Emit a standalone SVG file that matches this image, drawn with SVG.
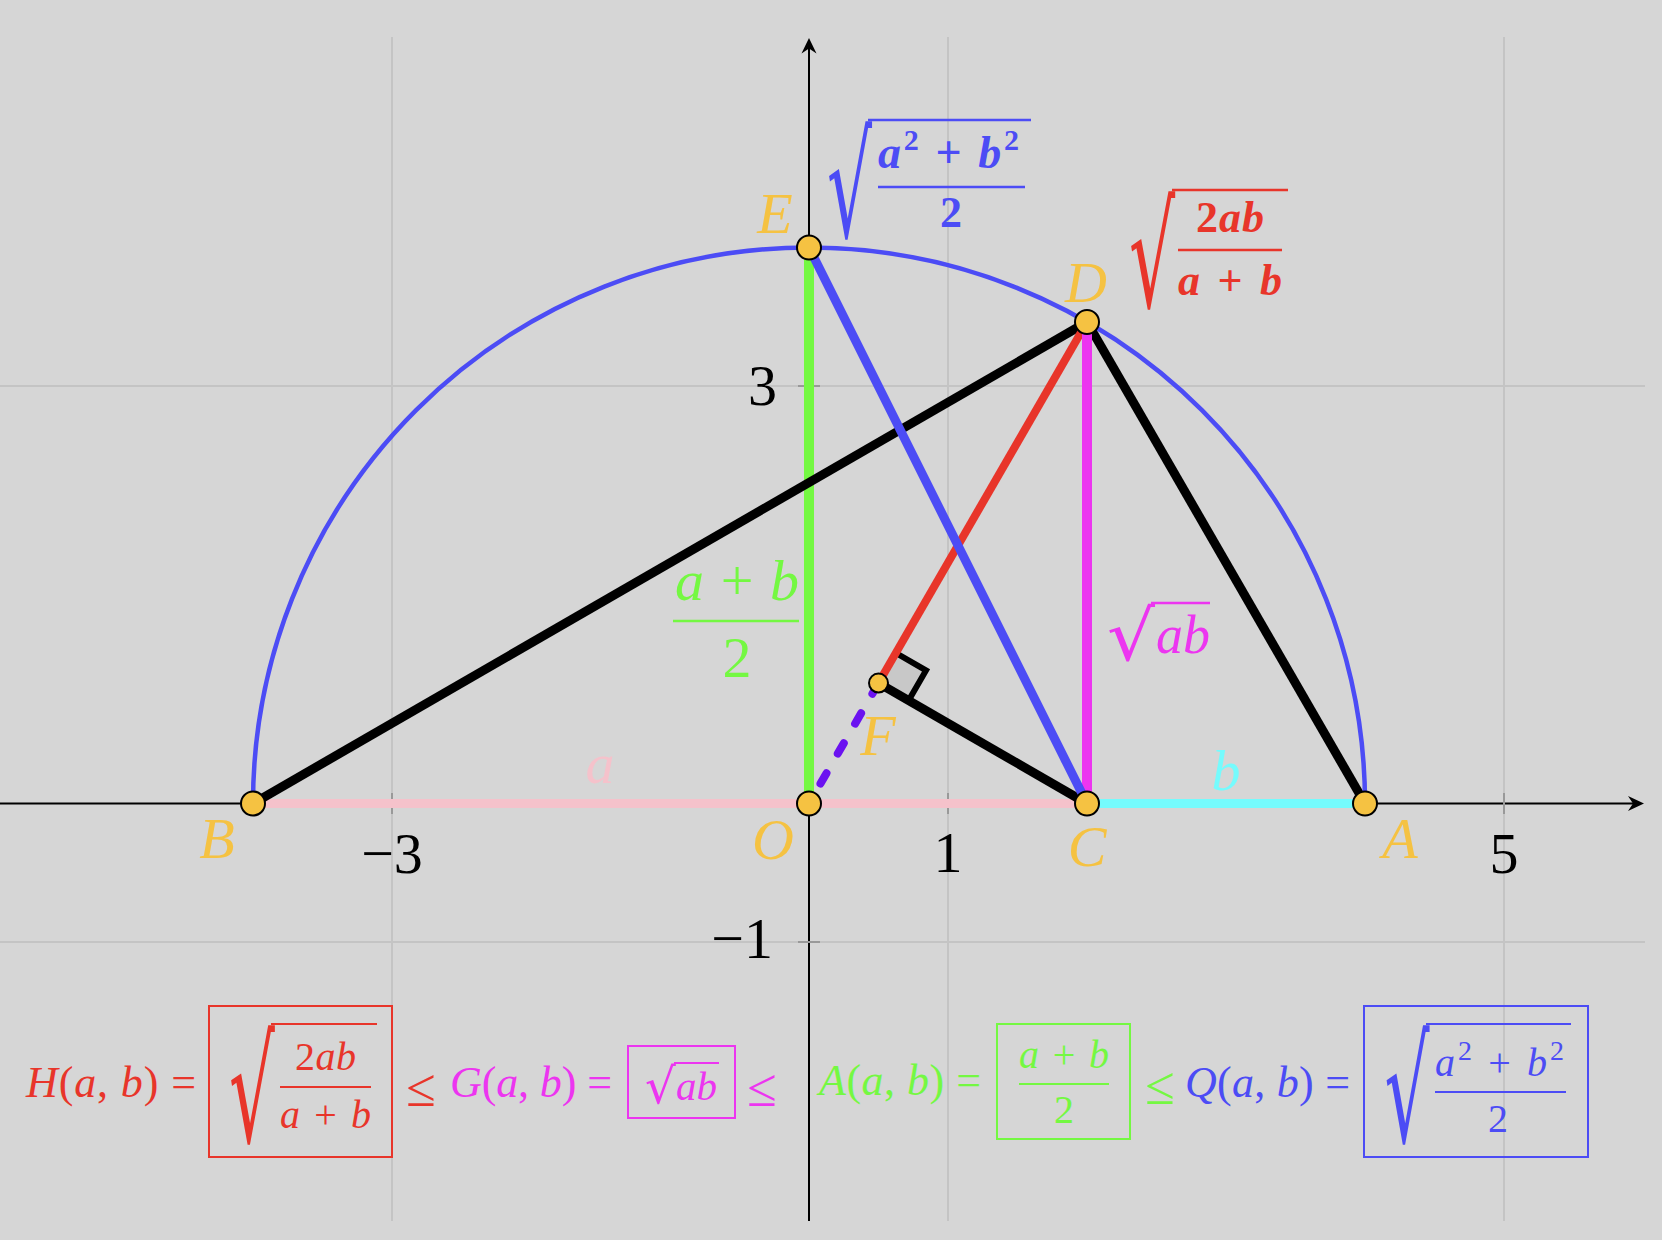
<svg xmlns="http://www.w3.org/2000/svg" width="1662" height="1240" viewBox="0 0 1662 1240">
<style>
.t{font-family:'Liberation Serif','DejaVu Serif',serif;font-style:italic}
.n{font-style:normal}
.bd{font-weight:bold}
.pl{fill:#f5c242;font-size:58px;text-anchor:middle}
.tk{fill:#000;font-size:58px;font-style:normal}
.grid{stroke:#c4c4c4;stroke-width:2}
.tick{stroke:#999;stroke-width:2}
.pt{fill:#f5c242;stroke:#000;stroke-width:2}
.seg{fill:none;stroke-linecap:butt}
.rad{font-family:'DejaVu Serif',serif;font-style:normal}
</style>
<rect width="1662" height="1240" fill="#d6d6d6"/>
<g id="grid">
<line class="grid" x1="392" y1="37" x2="392" y2="1221"/>
<line class="grid" x1="948" y1="37" x2="948" y2="1221"/>
<line class="grid" x1="1504" y1="37" x2="1504" y2="1221"/>
<line class="grid" x1="0" y1="386" x2="1645" y2="386"/>
<line class="grid" x1="0" y1="942" x2="1645" y2="942"/>
</g>
<g id="axes">
<line x1="0" y1="803.5" x2="1634" y2="803.5" stroke="#000" stroke-width="2"/>
<polygon points="1644,803.5 1628,796 1633,803.5 1628,811" fill="#000"/>
<line x1="809" y1="1221" x2="809" y2="48" stroke="#000" stroke-width="2"/>
<polygon points="809,38 801.5,53.5 809,48.5 816.5,53.5" fill="#000"/>
<line class="tick" x1="392" y1="793" x2="392" y2="814"/>
<line class="tick" x1="948" y1="793" x2="948" y2="814"/>
<line class="tick" x1="1504" y1="793" x2="1504" y2="814"/>
<line class="tick" x1="798" y1="386" x2="820" y2="386"/>
<line class="tick" x1="798" y1="942" x2="820" y2="942"/>
<text class="t tk" x="392" y="873" text-anchor="middle">−3</text>
<text class="t tk" x="948" y="872" text-anchor="middle">1</text>
<text class="t tk" x="1504" y="873" text-anchor="middle">5</text>
<text class="t tk" x="777" y="405" text-anchor="end">3</text>
<text class="t tk" x="773" y="958" text-anchor="end">−1</text>
</g>
<g id="connectors">
<line id="seg-BC" class="seg" x1="253" y1="803.5" x2="1087" y2="803.5" stroke="#f5c2cb" stroke-width="9"/>
<line id="seg-CA" class="seg" x1="1087" y1="803.5" x2="1365" y2="803.5" stroke="#75fbfd" stroke-width="9"/>
<line id="seg-OE" class="seg" x1="809" y1="803.5" x2="809" y2="247.5" stroke="#74f842" stroke-width="10"/>
<polygon id="right-angle" points="878.5,683.1 895.9,653 926,670.4 908.6,700.5" fill="#c8c8c8"/>
<polyline points="895.9,653 926,670.4 908.6,700.5" fill="none" stroke="#000" stroke-width="6" stroke-linejoin="miter"/>
<line id="seg-BD" class="seg" x1="253" y1="803.5" x2="1087" y2="322" stroke="#000" stroke-width="9"/>
<line id="seg-DA" class="seg" x1="1087" y1="322" x2="1365" y2="803.5" stroke="#000" stroke-width="9"/>
<line id="seg-CF" class="seg" x1="1087" y1="803.5" x2="878.5" y2="683.1" stroke="#000" stroke-width="9"/>
<line id="seg-DF" class="seg" x1="1087" y1="322" x2="878.5" y2="683.1" stroke="#e8352a" stroke-width="8"/>
<line id="seg-CD" class="seg" x1="1087" y1="803.5" x2="1087" y2="322" stroke="#ec35f0" stroke-width="10"/>
<line id="seg-EC" class="seg" x1="809" y1="247.5" x2="1087" y2="803.5" stroke="#4c4cf5" stroke-width="9"/>
<line id="seg-OF" x1="809" y1="803.5" x2="878.5" y2="683.1" stroke="#6b12f0" stroke-width="8" stroke-linecap="round" stroke-dasharray="12 22.6" stroke-dashoffset="11.6"/>
<path id="semicircle" d="M253 803.5 A556 556 0 0 1 1365 803.5" fill="none" stroke="#4c4cf5" stroke-width="4.5"/>
</g>
<g id="node-B"><circle class="pt" cx="253" cy="803.5" r="12"/><text class="t pl" x="217" y="858">B</text></g>
<g id="node-O"><circle class="pt" cx="809" cy="803.5" r="12"/><text class="t pl" x="773" y="859">O</text></g>
<g id="node-C"><circle class="pt" cx="1087" cy="803.5" r="12"/><text class="t pl" x="1087" y="866">C</text></g>
<g id="node-A"><circle class="pt" cx="1365" cy="803.5" r="12"/><text class="t pl" x="1400" y="858">A</text></g>
<g id="node-E"><circle class="pt" cx="809" cy="247.5" r="12"/><text class="t pl" x="775" y="233">E</text></g>
<g id="node-D"><circle class="pt" cx="1087" cy="322" r="12"/><text class="t pl" x="1086" y="302">D</text></g>
<g id="node-F"><circle class="pt" cx="878.5" cy="683.1" r="9.5"/><text class="t pl" x="878" y="755">F</text></g>
<g id="labels">
<text class="t" x="600" y="783" font-size="58" fill="#f5c2cb" text-anchor="middle">a</text>
<text class="t" x="1226" y="790" font-size="58" fill="#75fbfd" text-anchor="middle">b</text>
<g fill="#74f842">
<text class="t" x="737" y="600" font-size="58" text-anchor="middle" textLength="124">a <tspan class="n">+</tspan> b</text>
<line x1="673" y1="621" x2="799" y2="621" stroke="#74f842" stroke-width="2.5"/>
<text class="t n" x="737" y="677" font-size="58" text-anchor="middle">2</text>
</g>
<g fill="#ec35f0">
<text class="rad" transform="translate(1107,660) scale(1.3,1.2)" font-size="58">√</text>
<line x1="1151" y1="603" x2="1210" y2="603" stroke="#ec35f0" stroke-width="2.5"/>
<text class="t" x="1156" y="653" font-size="54">ab</text>
</g>
<g fill="#4c4cf5">
<text class="rad" transform="translate(827,237) scale(1.22,2.46)" font-size="58">√</text>
<line x1="868" y1="120" x2="1031" y2="120" stroke="#4c4cf5" stroke-width="2.5"/>
<text class="t bd" x="878" y="168" font-size="46" textLength="141">a<tspan class="n" font-size="30" dy="-18">2</tspan><tspan dy="18" class="n"> + </tspan>b<tspan class="n" font-size="30" dy="-18">2</tspan></text>
<line x1="878" y1="187" x2="1025" y2="187" stroke="#4c4cf5" stroke-width="2.5"/>
<text class="t n bd" x="951" y="227" font-size="44" text-anchor="middle">2</text>
</g>
<g fill="#e8352a">
<text class="rad" transform="translate(1129,307) scale(1.25,2.46)" font-size="58">√</text>
<line x1="1172" y1="190" x2="1288" y2="190" stroke="#e8352a" stroke-width="2.5"/>
<text class="t bd" x="1196" y="232" font-size="44" textLength="68"><tspan class="n">2</tspan>ab</text>
<line x1="1178" y1="250" x2="1282" y2="250" stroke="#e8352a" stroke-width="2.5"/>
<text class="t bd" x="1178" y="295" font-size="44" textLength="104">a<tspan class="n"> + </tspan>b</text>
</g>
</g>
<g id="formula">
<g id="formula-H" fill="#e8352a">
<text class="t" x="26" y="1097" font-size="44" textLength="170">H<tspan class="n">(</tspan>a<tspan class="n">, </tspan>b<tspan class="n">) =</tspan></text>
<rect x="209" y="1006" width="183" height="151" fill="none" stroke="#e8352a" stroke-width="2"/>
<text class="rad" transform="translate(229,1142) scale(1.24,2.48)" font-size="58">√</text>
<line x1="271" y1="1024" x2="377" y2="1024" stroke="#e8352a" stroke-width="2"/>
<text class="t" x="295" y="1070" font-size="40" textLength="61"><tspan class="n">2</tspan>ab</text>
<line x1="280" y1="1087" x2="371" y2="1087" stroke="#e8352a" stroke-width="2"/>
<text class="t" x="280" y="1128" font-size="40" textLength="91">a<tspan class="n"> + </tspan>b</text>
<text class="t n" x="421" y="1106" font-size="54" text-anchor="middle">≤</text>
</g>
<g id="formula-G" fill="#ec35f0">
<text class="t" x="450" y="1097" font-size="44" textLength="162">G<tspan class="n">(</tspan>a<tspan class="n">, </tspan>b<tspan class="n">) =</tspan></text>
<rect x="628" y="1046" width="107" height="72" fill="none" stroke="#ec35f0" stroke-width="2"/>
<text class="rad" transform="translate(645,1103) scale(1.1,1.11)" font-size="44">√</text>
<line x1="674" y1="1063" x2="719" y2="1063" stroke="#ec35f0" stroke-width="2"/>
<text class="t" x="676" y="1100" font-size="41">ab</text>
<text class="t n" x="762" y="1106" font-size="54" text-anchor="middle">≤</text>
</g>
<g id="formula-A" fill="#74f842">
<text class="t" x="819" y="1095" font-size="44" textLength="162">A<tspan class="n">(</tspan>a<tspan class="n">, </tspan>b<tspan class="n">) =</tspan></text>
<rect x="997" y="1024" width="133" height="115" fill="none" stroke="#74f842" stroke-width="2"/>
<text class="t" x="1019" y="1068" font-size="40" textLength="90">a<tspan class="n"> + </tspan>b</text>
<line x1="1019" y1="1084" x2="1109" y2="1084" stroke="#74f842" stroke-width="2"/>
<text class="t n" x="1064" y="1123" font-size="40" text-anchor="middle">2</text>
<text class="t n" x="1160" y="1104" font-size="54" text-anchor="middle">≤</text>
</g>
<g id="formula-Q" fill="#4c4cf5">
<text class="t" x="1185" y="1097" font-size="44" textLength="165">Q<tspan class="n">(</tspan>a<tspan class="n">, </tspan>b<tspan class="n">) =</tspan></text>
<rect x="1364" y="1006" width="224" height="151" fill="none" stroke="#4c4cf5" stroke-width="2"/>
<text class="rad" transform="translate(1384.5,1142) scale(1.22,2.48)" font-size="58">√</text>
<line x1="1426" y1="1024" x2="1571" y2="1024" stroke="#4c4cf5" stroke-width="2"/>
<text class="t" x="1435" y="1076" font-size="40" textLength="129">a<tspan class="n" font-size="28" dy="-16">2</tspan><tspan class="n" dy="16"> + </tspan>b<tspan class="n" font-size="28" dy="-16">2</tspan></text>
<line x1="1435" y1="1092" x2="1566" y2="1092" stroke="#4c4cf5" stroke-width="2"/>
<text class="t n" x="1498" y="1132" font-size="40" text-anchor="middle">2</text>
</g>
</g>
</svg>
